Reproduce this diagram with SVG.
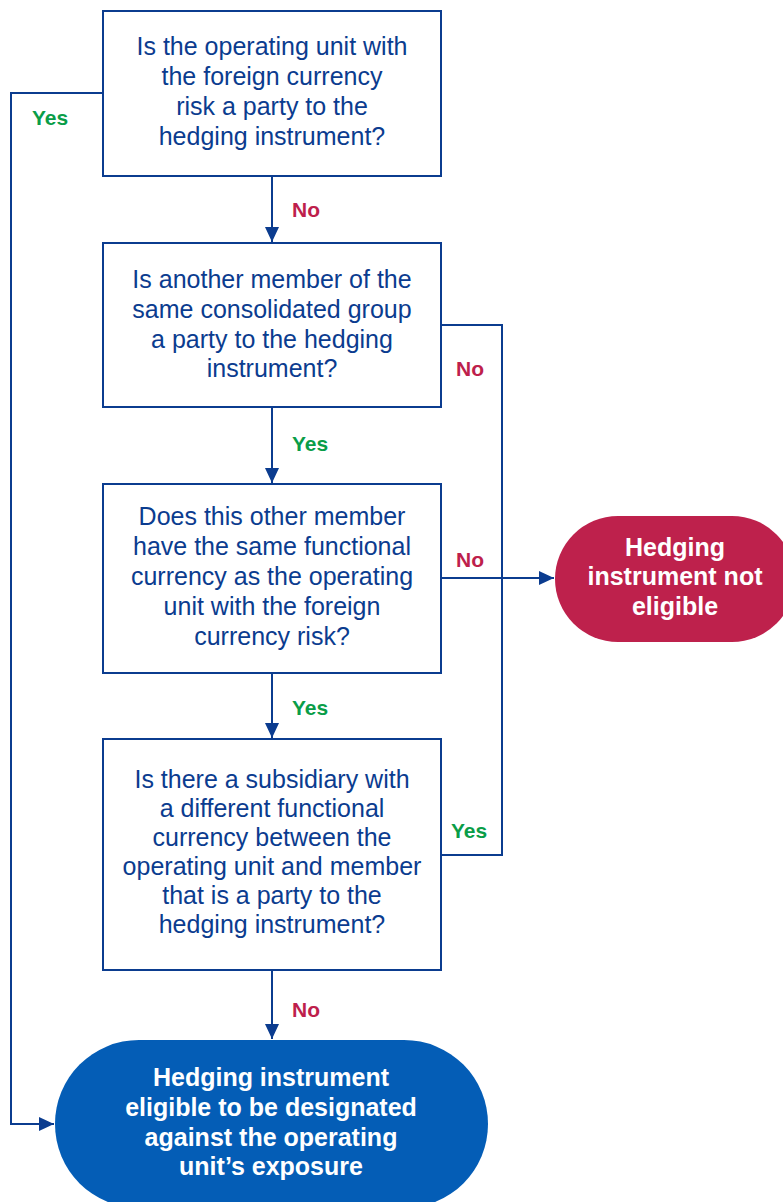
<svg xmlns="http://www.w3.org/2000/svg" width="783" height="1202" viewBox="0 0 783 1202">
<style>
.box{fill:#fff;stroke:#0b3c8f;stroke-width:2}
.q{font-family:"Liberation Sans",Arial,sans-serif;font-size:25px;fill:#0b3c8f;text-anchor:middle}
.w{font-family:"Liberation Sans",Arial,sans-serif;font-size:25px;font-weight:bold;fill:#fff;text-anchor:middle}
.yes{font-family:"Liberation Sans",Arial,sans-serif;font-size:21px;font-weight:bold;fill:#0a9d48}
.no{font-family:"Liberation Sans",Arial,sans-serif;font-size:21px;font-weight:bold;fill:#be1f4c}
.c{fill:none;stroke:#0b3c8f;stroke-width:2}
</style>
<defs>
<marker id="ah" markerUnits="userSpaceOnUse" markerWidth="16" markerHeight="16" refX="15" refY="7" orient="auto">
<path d="M0,0 L15,7 L0,14 Z" fill="#0b3c8f"/>
</marker>
</defs>
<g id="connectors">
<path class="c" d="M272,176 V242" marker-end="url(#ah)"/>
<path class="c" d="M272,407 V483" marker-end="url(#ah)"/>
<path class="c" d="M272,673 V738" marker-end="url(#ah)"/>
<path class="c" d="M272,970 V1039" marker-end="url(#ah)"/>
<path class="c" d="M103,93 H11 V1124 H54" marker-end="url(#ah)"/>
<path class="c" d="M441,325 H502 V855 H441"/>
<path class="c" d="M441,578 H554" marker-end="url(#ah)"/>
<text class="yes" x="32" y="125">Yes</text>
<text class="no" x="292" y="217">No</text>
<text class="yes" x="292" y="451">Yes</text>
<text class="yes" x="292" y="715">Yes</text>
<text class="no" x="292" y="1017">No</text>
<text class="no" x="456" y="376">No</text>
<text class="no" x="456" y="567">No</text>
<text class="yes" x="451" y="838">Yes</text>
</g>
<g id="q1">
<rect class="box" x="103" y="11" width="338" height="165"/>
<text class="q" x="272" y="55">Is the operating unit with</text>
<text class="q" x="272" y="85">the foreign currency</text>
<text class="q" x="272" y="115">risk a party to the</text>
<text class="q" x="272" y="145">hedging instrument?</text>
</g>
<g id="q2">
<rect class="box" x="103" y="243" width="338" height="164"/>
<text class="q" x="272" y="288">Is another member of the</text>
<text class="q" x="272" y="318">same consolidated group</text>
<text class="q" x="272" y="348">a party to the hedging</text>
<text class="q" x="272" y="377">instrument?</text>
</g>
<g id="q3">
<rect class="box" x="103" y="484" width="338" height="189"/>
<text class="q" x="272" y="525">Does this other member</text>
<text class="q" x="272" y="555">have the same functional</text>
<text class="q" x="272" y="585">currency as the operating</text>
<text class="q" x="272" y="615">unit with the foreign</text>
<text class="q" x="272" y="645">currency risk?</text>
</g>
<g id="q4">
<rect class="box" x="103" y="739" width="338" height="231"/>
<text class="q" x="272" y="788">Is there a subsidiary with</text>
<text class="q" x="272" y="817">a different functional</text>
<text class="q" x="272" y="846">currency between the</text>
<text class="q" x="272" y="875">operating unit and member</text>
<text class="q" x="272" y="904">that is a party to the</text>
<text class="q" x="272" y="933">hedging instrument?</text>
</g>
<g id="not-eligible">
<rect x="555" y="516" width="240" height="126" rx="63" fill="#be214c"/>
<text class="w" x="675" y="556">Hedging</text>
<text class="w" x="675" y="585">instrument not</text>
<text class="w" x="675" y="615">eligible</text>
</g>
<g id="eligible">
<rect x="55" y="1040" width="433" height="168" rx="84" fill="#045db6"/>
<text class="w" x="271" y="1086">Hedging instrument</text>
<text class="w" x="271" y="1116">eligible to be designated</text>
<text class="w" x="271" y="1146">against the operating</text>
<text class="w" x="271" y="1175">unit’s exposure</text>
</g>
</svg>
